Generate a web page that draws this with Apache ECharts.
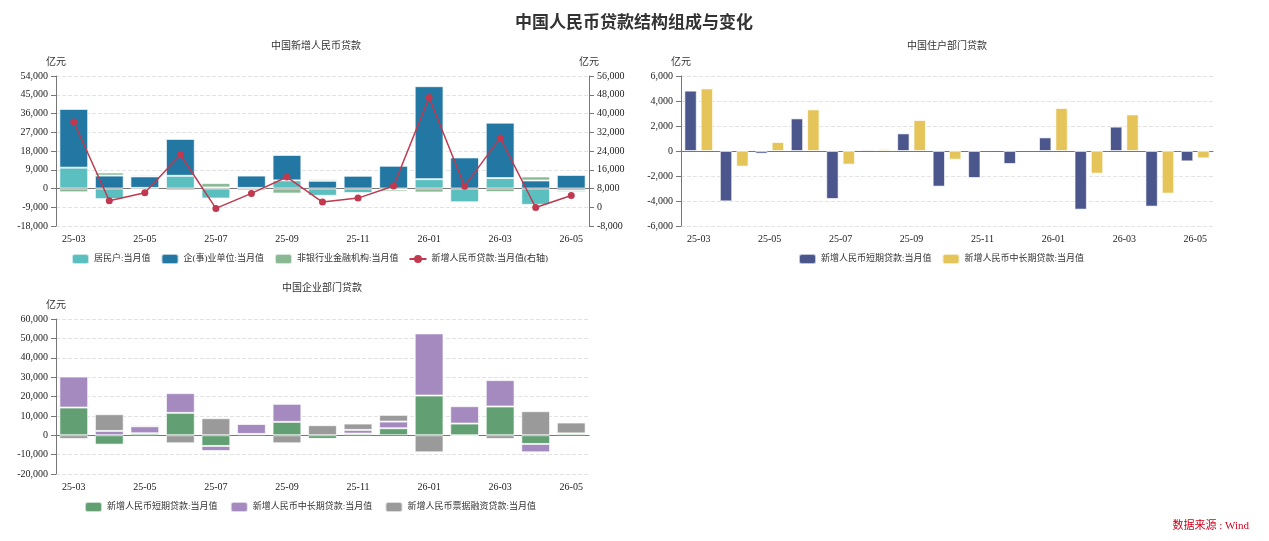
<!DOCTYPE html>
<html>
<head>
<meta charset="utf-8">
<script src="https://cdn.jsdelivr.net/npm/echarts@6/dist/echarts.min.js"></script>
<style>html,body{margin:0;padding:0;background:#fff;}#c{width:1269px;height:541px;}</style>
</head>
<body>
<div id="c"></div>
<script>
var months = ['25-03','25-04','25-05','25-06','25-07','25-08','25-09','25-10','25-11','25-12','26-01','26-02','26-03','26-04','26-05'];

// Chart 1: 中国新增人民币贷款
var household = [10000, -5100, 300, 6100, -4800, 300, 3900, -3500, -2200, -500, 4500, -6600, 5000, -7850, -1100];
var enterprise = [28200, 6200, 5500, 17700, 500, 5900, 12200, 3700, 6100, 10900, 44600, 14900, 26600, 3850, 6500];
var nonbank = [-1800, 1500, 700, -1000, 2100, -1000, -2400, 800, -200, -1000, -1900, -200, -1700, 1900, -800];
var totalLoans = [36400, 2800, 6200, 22400, -500, 5900, 12900, 2200, 3900, 9100, 46800, 9000, 29600, -100, 5000];

// Chart 2: 中国住户部门贷款
var hhShort = [4830, -4030, -210, 2610, -3840, 110, 1410, -2850, -2160, -1040, 1090, -4690, 1950, -4450, -830];
var hhLong = [5010, -1250, 720, 3330, -1090, 160, 2480, -690, 80, 80, 3440, -1810, 2930, -3410, -590];

// Chart 3: 中国企业部门贷款
var entShort = [14300, -4830, 1030, 11550, -5520, 690, 6900, -1900, 860, 3620, 20500, 6030, 14830, -4480, 860];
var entLong = [16000, 2240, 3600, 10170, -2590, 5170, 9310, 0, 1900, 3450, 32070, 8960, 13620, -4310, 100];
var entBill = [-1900, 8600, 700, -4140, 8790, 0, -4140, 5170, 3280, 3450, -8800, -300, -1900, 12400, 5600];

var FONT = "'Liberation Serif', 'Noto Sans CJK SC', serif";
var txt = {fontFamily: FONT, color: '#222', fontSize: 10};
var border = {borderColor: 'rgba(255,255,255,0.65)', borderWidth: 1};

function xAxis(gi) {
  return {
    type: 'category', gridIndex: gi, data: months,
    axisLine: {lineStyle: {color: '#777'}},
    axisTick: {alignWithLabel: true, interval: 1, lineStyle: {color: '#777'}},
    axisLabel: Object.assign({interval: 1, margin: 8}, txt)
  };
}
function yAxis(gi, min, max, interval, pos, split) {
  return {
    type: 'value', gridIndex: gi, min: min, max: max, interval: interval, position: pos,
    name: '亿元', nameLocation: 'end', nameGap: 9,
    nameTextStyle: {fontFamily: FONT, color: '#333', fontSize: 10},
    axisLine: {show: true, lineStyle: {color: '#777'}},
    axisTick: {show: true, lineStyle: {color: '#777'}},
    axisLabel: Object.assign({
      formatter: function (v) { return v.toLocaleString('en-US'); }
    }, txt),
    splitLine: {show: split, lineStyle: {type: 'dashed', color: '#e3e3e3'}}
  };
}
var legendText = {fontFamily: FONT, fontSize: 9, color: '#333'};
var legendBase = {itemWidth: 17, itemHeight: 10, itemGap: 10, textStyle: legendText};

var chart = echarts.init(document.getElementById('c'));
chart.setOption({
  backgroundColor: '#fff',
  animation: false,
  title: [
    {text: '中国人民币贷款结构组成与变化', left: 629, top: 10, textAlign: 'center',
      textStyle: {fontFamily: FONT, fontSize: 17, fontWeight: 'bold', color: '#333'}},
    {text: '中国新增人民币贷款', left: 311, top: 36, textAlign: 'center',
      textStyle: {fontFamily: FONT, fontSize: 10, fontWeight: 'normal', color: '#333'}},
    {text: '中国住户部门贷款', left: 942, top: 36, textAlign: 'center',
      textStyle: {fontFamily: FONT, fontSize: 10, fontWeight: 'normal', color: '#333'}},
    {text: '中国企业部门贷款', left: 317, top: 278, textAlign: 'center',
      textStyle: {fontFamily: FONT, fontSize: 10, fontWeight: 'normal', color: '#333'}}
  ],
  grid: [
    {left: 56, top: 76, width: 533, height: 150},
    {left: 681, top: 76, width: 532, height: 150},
    {left: 56, top: 319, width: 533, height: 155}
  ],
  legend: [
    Object.assign({left: 66, top: 248,
      data: [{name: '居民户:当月值', icon: 'roundRect'}, {name: '企(事)业单位:当月值', icon: 'roundRect'},
             {name: '非银行业金融机构:当月值', icon: 'roundRect'}, '新增人民币贷款:当月值(右轴)']}, legendBase),
    Object.assign({left: 793, top: 248,
      data: [{name: '新增人民币短期贷款:当月值', icon: 'roundRect'}, {name: '新增人民币中长期贷款:当月值', icon: 'roundRect'}]}, legendBase),
    Object.assign({left: 79, top: 496,
      data: [{name: '新增人民币短期贷款:当月值 ', icon: 'roundRect'}, {name: '新增人民币中长期贷款:当月值 ', icon: 'roundRect'},
             {name: '新增人民币票据融资贷款:当月值', icon: 'roundRect'}]}, legendBase)
  ],
  xAxis: [xAxis(0), xAxis(1), xAxis(2)],
  yAxis: [
    yAxis(0, -18000, 54000, 9000, 'left', true),
    yAxis(0, -8000, 56000, 8000, 'right', false),
    yAxis(1, -6000, 6000, 2000, 'left', true),
    yAxis(2, -20000, 60000, 10000, 'left', true)
  ],
  graphic: [
    {type: 'text', right: 20, top: 521,
      style: {text: '数据来源 : Wind', fill: '#d0021b', font: '11px ' + FONT}}
  ],
  series: [
    {name: '居民户:当月值', type: 'bar', xAxisIndex: 0, yAxisIndex: 0, stack: 'a', barCategoryGap: '19%',
      itemStyle: Object.assign({color: '#5bbfbf'}, border), data: household},
    {name: '企(事)业单位:当月值', type: 'bar', xAxisIndex: 0, yAxisIndex: 0, stack: 'a',
      itemStyle: Object.assign({color: '#2277a3'}, border), data: enterprise},
    {name: '非银行业金融机构:当月值', type: 'bar', xAxisIndex: 0, yAxisIndex: 0, stack: 'a',
      itemStyle: Object.assign({color: '#88b993'}, border), data: nonbank},
    {name: '新增人民币贷款:当月值(右轴)', type: 'line', xAxisIndex: 0, yAxisIndex: 1,
      symbol: 'circle', symbolSize: 7, lineStyle: {width: 1.5, color: '#c0394f'},
      itemStyle: {color: '#c0394f'}, data: totalLoans, z: 5},

    {name: '新增人民币短期贷款:当月值', type: 'bar', xAxisIndex: 1, yAxisIndex: 2,
      barCategoryGap: '19%', barGap: '32%',
      itemStyle: Object.assign({color: '#4a568c'}, border), data: hhShort},
    {name: '新增人民币中长期贷款:当月值', type: 'bar', xAxisIndex: 1, yAxisIndex: 2,
      itemStyle: Object.assign({color: '#e5c55a'}, border), data: hhLong},

    {name: '新增人民币短期贷款:当月值 ', type: 'bar', xAxisIndex: 2, yAxisIndex: 3, stack: 'c', barCategoryGap: '19%',
      itemStyle: Object.assign({color: '#62a073'}, border), data: entShort},
    {name: '新增人民币中长期贷款:当月值 ', type: 'bar', xAxisIndex: 2, yAxisIndex: 3, stack: 'c',
      itemStyle: Object.assign({color: '#a48abf'}, border), data: entLong},
    {name: '新增人民币票据融资贷款:当月值', type: 'bar', xAxisIndex: 2, yAxisIndex: 3, stack: 'c',
      itemStyle: Object.assign({color: '#9a9a9a'}, border), data: entBill}
  ]
});
</script>
</body>
</html>
